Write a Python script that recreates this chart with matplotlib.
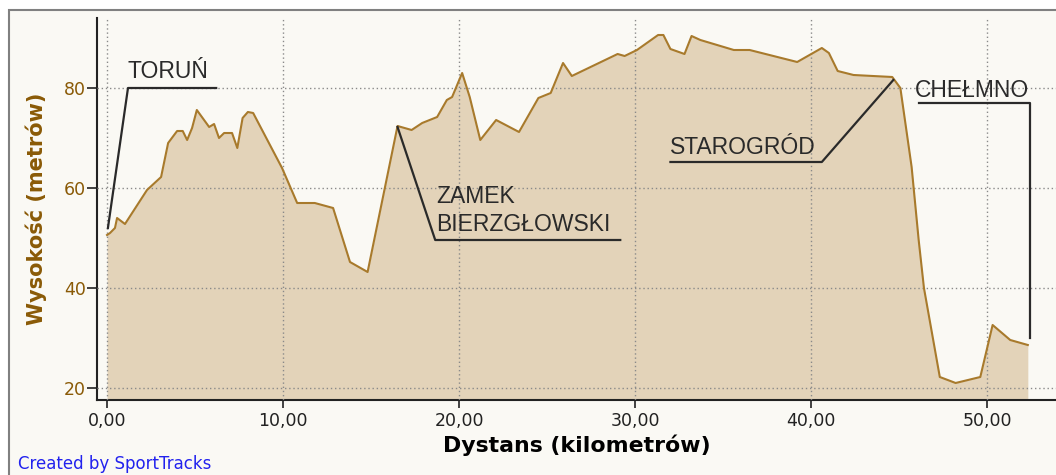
"""
Elevation profile Toruń - Chełmno, SportTracks style.
"""

import matplotlib
matplotlib.use('Agg')
from matplotlib import pyplot as plt
from matplotlib.patches import Rectangle

# distance along the route (km) and elevation (m)
dist = [0.0, 0.17, 0.45, 0.57, 1.02, 2.27, 3.07, 3.47, 3.98, 4.3, 4.55, 4.83,
        5.1, 5.8, 6.08, 6.36, 6.65, 7.1, 7.4, 7.7, 8.0, 8.3, 9.94, 10.8,
        11.8, 12.84, 13.8, 14.8, 16.5, 17.3, 17.9, 18.75, 19.3, 19.6, 20.17,
        20.6, 21.2, 22.1, 23.4, 24.5, 25.2, 25.9, 26.4, 29.0, 29.4, 30.1,
        31.3, 31.6, 32.0, 32.8, 33.2, 33.7, 35.6, 36.5, 39.2, 40.6, 41.0,
        41.5, 42.4, 44.6, 45.06, 45.7, 46.1, 46.4, 47.3, 48.2, 49.6, 50.3,
        51.3, 52.3]
elev = [50.6, 51.0, 52.0, 54.0, 52.8, 59.6, 62.2, 69.0, 71.4, 71.4, 69.6, 72.0,
        75.6, 72.2, 72.8, 70.0, 71.0, 71.0, 68.0, 74.0, 75.2, 75.0, 64.0, 57.0,
        57.0, 56.0, 45.2, 43.2, 72.4, 71.6, 73.0, 74.2, 77.6, 78.2, 83.0,
        78.2, 69.6, 73.6, 71.2, 78.0, 79.0, 85.0, 82.4, 86.8, 86.4, 87.6,
        90.6, 90.6, 87.8, 86.8, 90.4, 89.6, 87.6, 87.6, 85.2, 88.0, 87.0,
        83.4, 82.6, 82.2, 80.0, 64.2, 49.6, 40.0, 22.2, 21.0, 22.2, 32.6,
        29.6, 28.6]

x_ticks = [0, 10, 20, 30, 40, 50]
x_tick_labels = ['0,00', '10,00', '20,00', '30,00', '40,00', '50,00']
y_ticks = [20, 40, 60, 80]

bg = '#faf9f4'
fill_color = '#e3d3b9'
line_color = '#a87a2c'
brown = '#8a5a06'
note_color = '#2a2a2a'
note_font = dict(fontsize=16.5, color=note_color, family='Liberation Sans')

fig = plt.figure(figsize=(10.56, 4.75), dpi=100)
fig.patch.set_facecolor('white')

# sunken frame around the chart
fig.add_artist(Rectangle((9 / 1056, -0.05), 1.1, 1 - 10 / 475 + 0.05,
                         transform=fig.transFigure, facecolor=bg,
                         edgecolor='#808080', linewidth=1.5, zorder=0))

ax = fig.add_axes([97 / 1056, 1 - 400 / 475, 1 - 97 / 1056, 382 / 475])
ax.set_facecolor(bg)
ax.set_xlim(-0.57, 53.9)
ax.set_ylim(17.6, 94)

ax.fill_between(dist, elev, 17.6, color=fill_color, linewidth=0, zorder=1)
ax.plot(dist, elev, color=line_color, linewidth=1.5, zorder=3)

ax.set_xticks(x_ticks)
ax.set_xticklabels(x_tick_labels)
ax.set_yticks(y_ticks)
ax.grid(True, color='#8a8a8a', linestyle=(0, (1, 2)), linewidth=1, zorder=2)
ax.set_axisbelow(False)

for side in ['top', 'right']:
    ax.spines[side].set_visible(False)
for side in ['left', 'bottom']:
    ax.spines[side].set_linewidth(1.5)
    ax.spines[side].set_color('#222222')
ax.tick_params(axis='x', length=6, width=1.2, labelsize=12.5, colors='#222222',
               pad=3)
ax.tick_params(axis='y', length=7, width=1.2, labelsize=12.5, pad=1,
               labelcolor=brown, color='#222222')

ax.set_xlabel('Dystans (kilometrów)', fontsize=15.8, fontweight='bold',
              labelpad=3)
ax.set_ylabel('Wysokość (metrów)', fontsize=15, fontweight='bold',
              color=brown, labelpad=12)

# place annotations with leader lines
lw = 1.6
ax.plot([0.05, 1.19, 6.2], [52, 80, 80], color=note_color, lw=lw, zorder=4)
ax.text(1.15, 80.9, 'TORUŃ', va='bottom', **note_font)

ax.plot([16.5, 18.64, 29.15], [72.2, 49.6, 49.6], color=note_color, lw=lw,
        zorder=4)
ax.text(18.7, 50.5, 'ZAMEK\nBIERZGŁOWSKI', va='bottom', linespacing=1.25,
        **note_font)

ax.plot([44.66, 40.6, 32.0], [81.6, 65.2, 65.2], color=note_color, lw=lw,
        zorder=4)
ax.text(32.0, 65.9, 'STAROGRÓD', va='bottom', **note_font)

ax.plot([52.44, 52.44, 46.1], [30, 77, 77], color=note_color, lw=lw, zorder=4)
ax.text(45.9, 79.6, 'CHEŁMNO', va='center', **note_font)

fig.text(18 / 1056, 2 / 475, 'Created by SportTracks', fontsize=12,
         color='#2222ee', va='bottom')

plt.savefig('out.png', dpi=100, facecolor=fig.get_facecolor())
